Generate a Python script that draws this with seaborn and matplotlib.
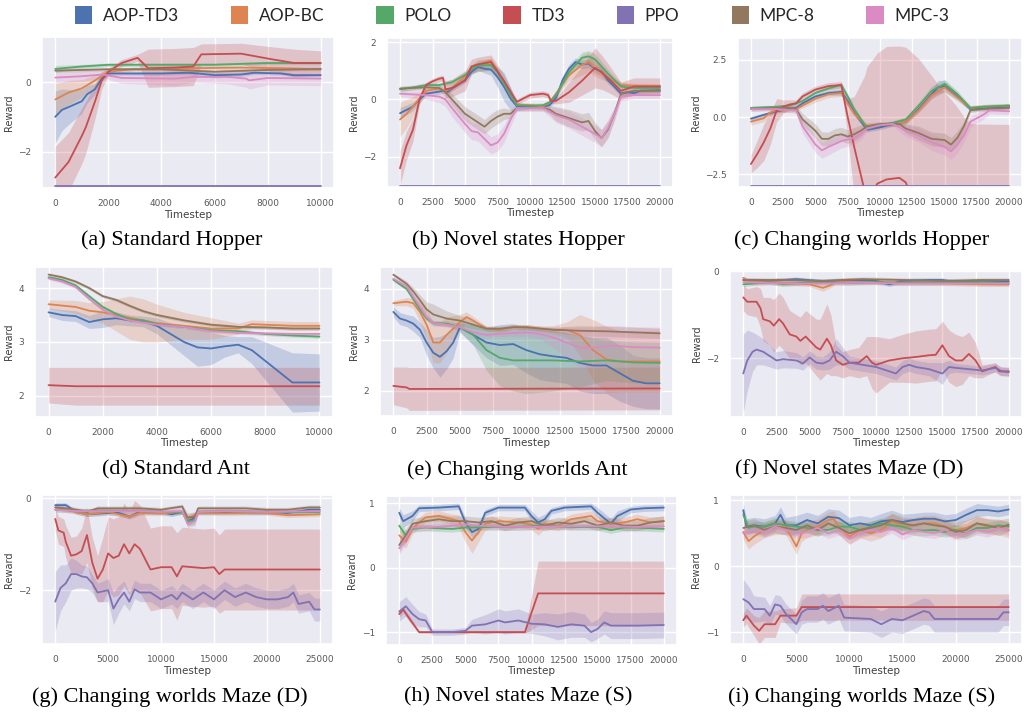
import pandas as pd
import matplotlib
matplotlib.use("Agg")
from matplotlib import pyplot as plt
from matplotlib.patches import Patch
import seaborn as sns

'''
    3x3 grid of reward curves (mean line + shaded spread) for seven methods.
    Each series is a list of (timestep, mean reward, half width of band).
'''

METHODS = ["AOP-TD3", "AOP-BC", "POLO", "TD3", "PPO", "MPC-8", "MPC-3"]
COLORS = dict(zip(METHODS, sns.color_palette("deep", 7)))

# (a) Standard Hopper
A_AOPTD3 = [(0, -1.0, 0.75), (250, -0.8, 0.6), (500, -0.72, 0.5), (1000, -0.55, 0.35), (1200, -0.35, 0.25),
            (1500, -0.2, 0.15), (1750, 0.1, 0.1), (2000, 0.25, 0.05), (3000, 0.25, 0.05), (4000, 0.25, 0.05),
            (5000, 0.27, 0.05), (5500, 0.24, 0.08), (6000, 0.2, 0.08), (7000, 0.22, 0.06), (7500, 0.27, 0.05),
            (8500, 0.25, 0.05), (9000, 0.2, 0.05), (10000, 0.2, 0.05)]
A_AOPBC = [(0, -0.5, 0.45), (500, -0.3, 0.35), (1000, -0.18, 0.25), (1500, 0.05, 0.15), (2000, 0.3, 0.08),
           (3000, 0.38, 0.05), (5000, 0.4, 0.05), (7000, 0.42, 0.05), (8500, 0.4, 0.05), (10000, 0.37, 0.05)]
A_POLO = [(0, 0.38, 0.1), (1000, 0.45, 0.06), (2000, 0.5, 0.05), (4000, 0.5, 0.05), (6000, 0.5, 0.05),
          (8000, 0.55, 0.05), (10000, 0.55, 0.05)]
A_TD3 = [(0, -2.75, 0.9), (500, -2.3, 0.85), (1000, -1.55, 0.8), (1150, -1.3, 0.75), (1500, -0.55, 0.5),
         (1750, 0.05, 0.25), (2000, 0.3, 0.1), (2500, 0.55, 0.1), (3100, 0.7, 0.1), (3500, 0.4, 0.55),
         (4500, 0.42, 0.55), (5200, 0.45, 0.55), (5500, 0.8, 0.3), (7000, 0.82, 0.3), (8000, 0.68, 0.35),
         (9000, 0.55, 0.4), (10000, 0.55, 0.35)]
A_PPO = [(0, -3.0, 0.0), (10000, -3.0, 0.0)]
A_MPC8 = [(0, 0.33, 0.05), (2000, 0.37, 0.05), (4000, 0.37, 0.05), (6000, 0.3, 0.05), (8000, 0.35, 0.05),
          (10000, 0.38, 0.05)]
A_MPC3 = [(0, 0.13, 0.15), (1000, 0.17, 0.15), (1800, 0.22, 0.1), (2500, 0.12, 0.15), (4500, 0.1, 0.2),
          (5200, 0.15, 0.15), (6500, 0.15, 0.2), (7200, 0.1, 0.25), (7300, 0.05, 0.25), (8000, 0.12, 0.2),
          (10000, 0.1, 0.2)]

# (b) Novel states Hopper
B_AOPTD3 = [(0, -0.48, 0.2), (1000, -0.25, 0.15), (1500, 0.0, 0.1), (2000, 0.2, 0.08), (3000, 0.27, 0.08),
            (3300, 0.3, 0.08), (3700, 0.27, 0.08), (4000, 0.38, 0.08), (5000, 0.67, 0.1), (5500, 0.96, 0.1),
            (6000, 1.13, 0.1), (6500, 1.07, 0.15), (7000, 1.04, 0.2), (7500, 0.78, 0.35), (8000, 0.44, 0.5),
            (8500, 0.03, 0.4), (9000, -0.25, 0.15), (10000, -0.25, 0.08), (11000, -0.25, 0.08),
            (11500, -0.2, 0.08), (12000, 0.05, 0.1), (12500, 0.67, 0.15), (13000, 1.07, 0.15),
            (13500, 1.3, 0.15), (14000, 1.22, 0.15), (14500, 1.25, 0.15), (15000, 1.07, 0.15),
            (15500, 0.96, 0.15), (16000, 0.67, 0.12), (16500, 0.44, 0.1), (17000, 0.2, 0.1),
            (17500, 0.25, 0.08), (18000, 0.22, 0.08), (18500, 0.3, 0.08), (20000, 0.32, 0.08)]
B_AOPBC = [(0, -0.7, 0.6), (500, -0.5, 0.5), (1000, -0.25, 0.35), (1500, 0.03, 0.2), (2000, 0.3, 0.1),
           (3000, 0.38, 0.1), (3500, 0.3, 0.1), (4000, 0.4, 0.1), (5000, 0.8, 0.1), (5500, 1.1, 0.1),
           (6000, 1.22, 0.1), (7000, 1.35, 0.1), (7500, 1.0, 0.1), (8000, 0.55, 0.1), (9000, -0.2, 0.08),
           (10000, -0.2, 0.08), (11000, -0.25, 0.08), (11500, -0.1, 0.08), (12000, 0.2, 0.1),
           (13000, 0.85, 0.2), (14000, 1.2, 0.35), (14500, 1.3, 0.35), (15000, 1.1, 0.3), (16000, 0.75, 0.15),
           (17000, 0.5, 0.1), (18000, 0.48, 0.08), (20000, 0.47, 0.08)]
B_POLO = [(0, 0.35, 0.1), (1000, 0.42, 0.08), (2000, 0.5, 0.08), (3000, 0.5, 0.08), (3500, 0.55, 0.08),
          (4000, 0.6, 0.1), (5000, 0.85, 0.12), (5500, 1.05, 0.15), (6000, 1.18, 0.2), (7000, 1.2, 0.2),
          (7500, 0.95, 0.15), (8000, 0.55, 0.1), (9000, -0.2, 0.08), (10000, -0.22, 0.08),
          (11000, -0.2, 0.08), (11500, -0.1, 0.08), (12000, 0.15, 0.1), (13000, 0.95, 0.15),
          (14000, 1.45, 0.2), (14500, 1.5, 0.2), (15000, 1.4, 0.2), (16000, 0.9, 0.15), (17000, 0.45, 0.1),
          (18000, 0.4, 0.08), (20000, 0.4, 0.08)]
B_TD3 = [(0, -2.4, 0.6), (500, -1.6, 0.5), (1000, -1.05, 0.4), (1500, 0.0, 0.15), (2000, 0.5, 0.1),
         (2500, 0.63, 0.1), (3000, 0.72, 0.1), (3300, 0.75, 0.1), (3500, 0.35, 0.3), (4000, 0.4, 0.3),
         (5000, 0.65, 0.35), (5500, 1.15, 0.25), (6000, 1.22, 0.25), (7000, 1.3, 0.25), (8000, 0.65, 0.2),
         (8800, 0.05, 0.1), (9000, -0.08, 0.1), (10000, 0.15, 0.1), (11000, 0.2, 0.1), (11400, 0.15, 0.1),
         (11600, -0.05, 0.1), (12000, -0.05, 0.1), (13000, 0.25, 0.35), (14000, 0.65, 0.5),
         (15000, 1.1, 0.7), (15500, 0.95, 0.6), (16000, 0.75, 0.5), (17000, 0.3, 0.3), (18000, 0.45, 0.3),
         (19000, 0.45, 0.3), (20000, 0.45, 0.3)]
B_PPO = [(0, -3.0, 0.0), (20000, -3.0, 0.0)]
B_MPC8 = [(0, 0.38, 0.08), (2000, 0.42, 0.08), (3000, 0.4, 0.1), (3500, 0.25, 0.15), (4000, 0.0, 0.2),
          (5000, -0.5, 0.25), (5500, -0.65, 0.25), (6500, -0.95, 0.25), (7000, -0.75, 0.25),
          (7500, -0.6, 0.25), (8000, -0.5, 0.2), (8500, -0.5, 0.15), (9000, -0.3, 0.1), (10000, -0.3, 0.1),
          (11000, -0.3, 0.1), (11500, -0.35, 0.15), (12000, -0.5, 0.25), (13000, -0.65, 0.3),
          (14000, -0.8, 0.3), (14500, -0.75, 0.3), (15000, -1.1, 0.3), (15500, -1.35, 0.3),
          (16000, -1.05, 0.3), (16500, -0.5, 0.2), (17000, 0.2, 0.1), (18000, 0.3, 0.08), (20000, 0.3, 0.08)]
B_MPC3 = [(0, 0.2, 0.1), (2000, 0.15, 0.15), (3000, 0.1, 0.2), (3500, 0.0, 0.25), (4000, -0.3, 0.3),
          (5000, -0.85, 0.3), (5500, -1.1, 0.3), (6000, -1.15, 0.3), (7000, -1.6, 0.3), (7500, -1.5, 0.3),
          (8000, -1.2, 0.3), (8500, -0.7, 0.25), (9000, -0.3, 0.1), (10000, -0.3, 0.1), (11000, -0.3, 0.1),
          (12000, -0.55, 0.25), (13000, -0.7, 0.3), (14000, -0.95, 0.3), (15000, -1.2, 0.3),
          (15500, -1.35, 0.3), (16000, -1.0, 0.3), (16500, -0.5, 0.25), (17000, 0.1, 0.15),
          (18000, 0.15, 0.12), (20000, 0.15, 0.12)]

# (c) Changing worlds Hopper
C_AOPTD3 = [(0, -0.07, 0.08), (1000, 0.1, 0.08), (2000, 0.25, 0.08), (3000, 0.35, 0.08), (3500, 0.4, 0.08),
            (4000, 0.6, 0.1), (5000, 0.9, 0.1), (6000, 1.05, 0.1), (7000, 1.1, 0.15), (7500, 0.7, 0.15),
            (8000, 0.2, 0.12), (9000, -0.55, 0.1), (10000, -0.45, 0.1), (11000, -0.3, 0.1),
            (11500, -0.25, 0.1), (12000, -0.2, 0.1), (13000, 0.35, 0.12), (14000, 1.0, 0.2),
            (14500, 1.3, 0.3), (15000, 1.35, 0.25), (16000, 0.9, 0.15), (17000, 0.35, 0.1), (18000, 0.4, 0.1),
            (20000, 0.45, 0.1)]
C_AOPBC = [(0, -0.2, 0.15), (1000, -0.05, 0.15), (1500, 0.2, 0.12), (2000, 0.3, 0.1), (3000, 0.3, 0.1),
           (3500, 0.35, 0.1), (4000, 0.5, 0.1), (5000, 0.8, 0.15), (6000, 1.0, 0.15), (7000, 1.05, 0.15),
           (7500, 0.6, 0.15), (8000, 0.15, 0.12), (9000, -0.4, 0.1), (10000, -0.35, 0.1), (11000, -0.3, 0.1),
           (12000, -0.2, 0.1), (13000, 0.3, 0.12), (14000, 0.95, 0.15), (15000, 1.3, 0.2),
           (16000, 0.85, 0.15), (17000, 0.4, 0.1), (18000, 0.45, 0.1), (20000, 0.5, 0.1)]
C_POLO = [(0, 0.4, 0.08), (2000, 0.45, 0.08), (3000, 0.5, 0.08), (4000, 0.7, 0.1), (5000, 1.05, 0.1),
          (6000, 1.25, 0.1), (7000, 1.4, 0.1), (7500, 0.9, 0.12), (8000, 0.35, 0.12), (9000, -0.5, 0.1),
          (10000, -0.35, 0.1), (11000, -0.25, 0.1), (12000, -0.1, 0.1), (13000, 0.5, 0.15),
          (14000, 1.15, 0.2), (15000, 1.45, 0.2), (16000, 1.0, 0.15), (17000, 0.4, 0.1), (18000, 0.45, 0.1),
          (20000, 0.5, 0.1)]
C_TD3 = [(0, -2.05, 0.4), (500, -1.6, 0.6), (1000, -1.1, 0.8), (1500, -0.5, 0.7), (2000, 0.3, 0.5),
         (2500, 0.45, 0.3), (3000, 0.55, 0.2), (3500, 0.6, 0.15), (4000, 0.9, 0.15), (5000, 1.2, 0.15),
         (6000, 1.35, 0.15), (7000, 1.4, 0.15), (7500, 0.0, 0.8), (8000, -1.3, 2.2), (8800, -3.2, 5.0),
         (9000, -3.6, 5.8), (9800, -2.9, 5.7), (10500, -2.72, 5.8), (11500, -2.65, 5.75),
         (12000, -2.85, 5.9), (12500, -3.6, 6.4), (13000, -3.6, 6.15), (14600, -3.6, 4.95),
         (15900, -3.6, 4.1), (16700, -3.6, 3.45), (17200, -3.6, 3.3), (20000, -3.6, 3.28)]
C_PPO = [(0, -3.0, 0.0), (20000, -3.0, 0.0)]
C_MPC8 = [(0, 0.35, 0.1), (2000, 0.4, 0.1), (3000, 0.4, 0.1), (3500, 0.35, 0.15), (4000, -0.1, 0.25),
          (5000, -0.6, 0.3), (5500, -0.95, 0.3), (6000, -0.95, 0.3), (6500, -0.8, 0.3), (7000, -0.75, 0.3),
          (7500, -0.85, 0.3), (8000, -0.75, 0.3), (8500, -0.6, 0.25), (9000, -0.4, 0.15),
          (10000, -0.3, 0.1), (11000, -0.3, 0.1), (11500, -0.3, 0.1), (12000, -0.5, 0.2),
          (13000, -0.7, 0.3), (14000, -0.95, 0.3), (15000, -1.0, 0.3), (15500, -1.2, 0.3),
          (16000, -0.9, 0.3), (16500, -0.4, 0.2), (17000, 0.3, 0.1), (18000, 0.35, 0.1), (20000, 0.4, 0.1)]
C_MPC3 = [(0, 0.35, 0.08), (2000, 0.35, 0.08), (3000, 0.3, 0.1), (3500, 0.3, 0.15), (4000, -0.4, 0.3),
          (5000, -1.2, 0.35), (5500, -1.45, 0.35), (6000, -1.3, 0.35), (7000, -1.05, 0.3),
          (8000, -0.9, 0.3), (8500, -0.75, 0.25), (9000, -0.5, 0.15), (10000, -0.35, 0.1),
          (11000, -0.3, 0.1), (12000, -0.6, 0.25), (13000, -0.8, 0.3), (14000, -1.1, 0.35),
          (15000, -1.3, 0.35), (15500, -1.5, 0.35), (16000, -1.2, 0.35), (16500, -0.8, 0.3),
          (17000, -0.2, 0.25), (18000, 0.1, 0.2), (18500, 0.3, 0.15), (20000, 0.25, 0.15)]

# (d) Standard Ant
D_AOPTD3 = [(0, 3.55, 0.08), (500, 3.5, 0.1), (1000, 3.48, 0.1), (1500, 3.37, 0.12), (2000, 3.42, 0.15),
            (2500, 3.44, 0.12), (3000, 3.4, 0.1), (3500, 3.38, 0.1), (4000, 3.3, 0.15), (4500, 3.15, 0.2),
            (5000, 3.0, 0.25), (5500, 2.9, 0.35), (6000, 2.88, 0.3), (6500, 2.92, 0.2), (7000, 2.95, 0.15),
            (7500, 2.85, 0.25), (8000, 2.65, 0.35), (8500, 2.45, 0.45), (9000, 2.25, 0.55),
            (10000, 2.25, 0.53)]
D_AOPBC = [(0, 3.7, 0.08), (1000, 3.65, 0.12), (1500, 3.58, 0.15), (2000, 3.55, 0.2), (2500, 3.5, 0.3),
           (3000, 3.45, 0.4), (3500, 3.4, 0.4), (4000, 3.35, 0.35), (5000, 3.3, 0.25), (6000, 3.25, 0.2),
           (7000, 3.25, 0.1), (7500, 3.33, 0.08), (8000, 3.32, 0.08), (9000, 3.3, 0.08), (10000, 3.3, 0.08)]
D_POLO = [(0, 4.2, 0.03), (500, 4.15, 0.03), (1000, 4.05, 0.03), (1500, 3.85, 0.03), (2000, 3.65, 0.03),
          (2500, 3.52, 0.03), (3000, 3.42, 0.03), (3500, 3.4, 0.03), (4000, 3.33, 0.03), (5000, 3.28, 0.03),
          (6000, 3.22, 0.03), (7000, 3.2, 0.03), (8000, 3.15, 0.03), (9000, 3.12, 0.03), (10000, 3.1, 0.03)]
D_TD3 = [(0, 2.2, 0.33), (1000, 2.18, 0.35), (10000, 2.18, 0.35)]
D_MPC8 = [(0, 4.25, 0.03), (500, 4.2, 0.03), (1000, 4.12, 0.03), (1500, 4.0, 0.03), (2000, 3.85, 0.03),
          (2500, 3.78, 0.03), (3000, 3.67, 0.03), (3500, 3.57, 0.03), (4000, 3.5, 0.03), (5000, 3.4, 0.03),
          (6000, 3.32, 0.03), (7000, 3.28, 0.03), (8000, 3.27, 0.03), (9000, 3.25, 0.03), (10000, 3.25, 0.03)]
D_MPC3 = [(0, 4.18, 0.03), (500, 4.12, 0.03), (1000, 4.02, 0.03), (1500, 3.8, 0.03), (2000, 3.6, 0.03),
          (2500, 3.47, 0.03), (3000, 3.4, 0.03), (4000, 3.32, 0.03), (5000, 3.28, 0.03), (6000, 3.2, 0.03),
          (7000, 3.17, 0.03), (8000, 3.16, 0.03), (9000, 3.15, 0.03), (10000, 3.15, 0.03)]

# (e) Changing worlds Ant
E_AOPTD3 = [(0, 3.55, 0.1), (500, 3.42, 0.12), (1000, 3.38, 0.12), (1500, 3.32, 0.15), (2000, 3.2, 0.15),
            (2500, 2.95, 0.25), (3000, 2.75, 0.3), (3500, 2.67, 0.4), (4000, 2.78, 0.35), (4500, 2.95, 0.3),
            (5000, 3.25, 0.1), (6000, 3.1, 0.2), (7000, 2.95, 0.3), (8000, 2.9, 0.4), (9000, 2.92, 0.4),
            (10000, 2.8, 0.45), (11000, 2.72, 0.5), (12000, 2.68, 0.5), (13000, 2.65, 0.5),
            (14000, 2.55, 0.55), (15000, 2.5, 0.55), (16000, 2.5, 0.55), (17000, 2.35, 0.55),
            (18000, 2.2, 0.5), (19000, 2.15, 0.5), (20000, 2.15, 0.5)]
E_AOPBC = [(0, 3.72, 0.05), (1000, 3.75, 0.08), (1500, 3.72, 0.1), (2000, 3.55, 0.2), (2500, 3.3, 0.3),
           (3000, 2.95, 0.4), (3500, 2.95, 0.4), (4000, 3.1, 0.35), (5000, 3.35, 0.15), (5500, 3.45, 0.1),
           (6000, 3.38, 0.08), (7000, 3.22, 0.05), (8000, 3.2, 0.05), (9000, 3.25, 0.05), (10000, 3.25, 0.05),
           (11000, 3.22, 0.05), (12000, 3.2, 0.08), (13000, 3.2, 0.15), (14000, 3.1, 0.4),
           (15000, 2.8, 0.6), (16000, 2.62, 0.65), (17000, 2.58, 0.6), (20000, 2.58, 0.6)]
E_POLO = [(0, 4.18, 0.03), (1000, 4.0, 0.03), (1500, 3.8, 0.05), (2000, 3.6, 0.05), (2500, 3.42, 0.05),
          (3000, 3.33, 0.05), (4000, 3.32, 0.05), (5000, 3.25, 0.08), (6000, 3.1, 0.2), (6500, 2.95, 0.3),
          (7000, 2.8, 0.4), (8000, 2.65, 0.55), (9000, 2.6, 0.6), (10000, 2.6, 0.65), (12000, 2.6, 0.6),
          (14000, 2.58, 0.5), (16000, 2.6, 0.4), (18000, 2.56, 0.4), (20000, 2.55, 0.4)]
E_TD3 = [(0, 2.1, 0.37), (1000, 2.07, 0.4), (1200, 2.04, 0.42), (20000, 2.05, 0.42)]
E_MPC8 = [(0, 4.28, 0.03), (1000, 4.1, 0.05), (1500, 3.95, 0.08), (2000, 3.78, 0.1), (2500, 3.6, 0.15),
          (3000, 3.5, 0.2), (4000, 3.42, 0.15), (5000, 3.38, 0.1), (6000, 3.3, 0.08), (7000, 3.22, 0.05),
          (8000, 3.22, 0.05), (9000, 3.25, 0.05), (10000, 3.25, 0.05), (12000, 3.2, 0.05), (14000, 3.18, 0.1),
          (16000, 3.17, 0.1), (18000, 3.15, 0.1), (20000, 3.13, 0.1)]
E_MPC3 = [(0, 4.2, 0.03), (1000, 4.05, 0.03), (1500, 3.85, 0.05), (2000, 3.65, 0.05), (2500, 3.45, 0.05),
          (3000, 3.33, 0.05), (4000, 3.3, 0.05), (5000, 3.25, 0.05), (6000, 3.15, 0.05), (7000, 3.1, 0.05),
          (8000, 3.12, 0.05), (10000, 3.15, 0.08), (11000, 3.12, 0.1), (12000, 3.05, 0.2),
          (13000, 2.95, 0.3), (14000, 2.85, 0.4), (15000, 2.85, 0.4), (16000, 2.88, 0.4),
          (17000, 2.88, 0.4), (18000, 2.86, 0.4), (20000, 2.85, 0.4)]

# (f) Novel states Maze (D)
F_AOPTD3 = [(0, -0.2, 0.05), (2000, -0.22, 0.05), (4000, -0.18, 0.05), (6000, -0.23, 0.05),
            (8000, -0.2, 0.05), (10000, -0.22, 0.05), (11000, -0.3, 0.05), (12000, -0.22, 0.05),
            (14000, -0.2, 0.05), (15000, -0.2, 0.05), (16000, -0.25, 0.05), (18000, -0.22, 0.05),
            (20000, -0.23, 0.05)]
F_AOPBC = [(0, -0.15, 0.05), (500, -0.25, 0.05), (2000, -0.25, 0.05), (4000, -0.28, 0.05), (5000, -0.3, 0.05),
           (6000, -0.38, 0.08), (6500, -0.33, 0.06), (7000, -0.25, 0.05), (10000, -0.25, 0.05),
           (13000, -0.27, 0.05), (16000, -0.28, 0.05), (18000, -0.3, 0.05), (20000, -0.3, 0.05)]
F_POLO = [(0, -0.3, 0.05), (2000, -0.25, 0.05), (3000, -0.3, 0.05), (5000, -0.25, 0.05), (8000, -0.27, 0.05),
          (10000, -0.25, 0.05), (12000, -0.27, 0.05), (15000, -0.25, 0.05), (18000, -0.25, 0.05),
          (20000, -0.27, 0.05)]
F_TD3 = [(0, -0.6, 0.3), (300, -0.7, 0.3), (1000, -0.7, 0.35), (1300, -0.85, 0.45), (1500, -1.1, 0.5),
         (2000, -1.15, 0.55), (2300, -1.25, 0.6), (2700, -1.1, 0.6), (3000, -1.2, 0.6), (3500, -1.45, 0.55),
         (4000, -1.5, 0.5), (4300, -1.6, 0.55), (4700, -1.5, 0.6), (5500, -1.75, 0.65), (5800, -1.8, 0.7),
         (6300, -1.55, 0.8), (6600, -1.7, 0.7), (7000, -2.05, 0.35), (7500, -2.15, 0.3), (8000, -2.1, 0.3),
         (8700, -2.1, 0.35), (9300, -1.95, 0.45), (9700, -2.1, 0.6), (10000, -2.15, 0.65),
         (11000, -2.05, 0.5), (12000, -2.0, 0.55), (13000, -1.97, 0.6), (14000, -1.93, 0.6),
         (14500, -1.92, 0.6), (15000, -1.7, 0.55), (15500, -1.95, 0.6), (16000, -2.05, 0.6),
         (16500, -2.05, 0.55), (17000, -1.9, 0.5), (17500, -2.05, 0.4), (18000, -2.3, 0.15),
         (19000, -2.2, 0.1), (19300, -2.3, 0.1), (20000, -2.3, 0.1)]
F_PPO = [(0, -2.35, 0.9), (300, -2.05, 0.7), (700, -1.85, 0.45), (1000, -1.8, 0.35), (1500, -1.85, 0.3),
         (2500, -2.05, 0.2), (3000, -2.02, 0.2), (4000, -2.05, 0.18), (4500, -2.12, 0.15), (5000, -1.98, 0.15),
         (5500, -2.1, 0.15), (6000, -2.12, 0.15), (6500, -2.05, 0.2), (7000, -1.85, 0.3), (7500, -1.95, 0.2),
         (8000, -2.1, 0.15), (9000, -2.15, 0.15), (10000, -2.2, 0.15), (11000, -2.3, 0.15),
         (11500, -2.35, 0.15), (12000, -2.2, 0.15), (12500, -2.15, 0.15), (13000, -2.2, 0.15),
         (14000, -2.25, 0.15), (15000, -2.35, 0.25), (15500, -2.2, 0.15), (16000, -2.22, 0.1),
         (17000, -2.25, 0.1), (18000, -2.28, 0.1), (19000, -2.22, 0.1), (19500, -2.3, 0.1),
         (20000, -2.32, 0.1)]
F_MPC8 = [(0, -0.2, 0.05), (3000, -0.2, 0.05), (6000, -0.22, 0.05), (9000, -0.18, 0.05), (12000, -0.2, 0.05),
          (15000, -0.22, 0.05), (18000, -0.2, 0.05), (20000, -0.2, 0.05)]
F_MPC3 = [(0, -0.25, 0.05), (3000, -0.28, 0.05), (6000, -0.28, 0.05), (9000, -0.26, 0.05),
          (12000, -0.28, 0.05), (15000, -0.28, 0.05), (18000, -0.28, 0.05), (20000, -0.28, 0.05)]

# (g) Changing worlds Maze (D)
G_AOPTD3 = [(0, -0.15, 0.05), (1000, -0.15, 0.05), (2000, -0.3, 0.05), (3000, -0.35, 0.05),
            (5000, -0.32, 0.05), (6000, -0.32, 0.05), (7000, -0.4, 0.05), (8000, -0.3, 0.05),
            (10000, -0.3, 0.05), (11000, -0.35, 0.05), (12000, -0.3, 0.05), (12500, -0.5, 0.1),
            (13000, -0.45, 0.1), (13500, -0.3, 0.05), (16000, -0.3, 0.05), (20000, -0.3, 0.05),
            (22000, -0.32, 0.05), (24000, -0.25, 0.05), (25000, -0.25, 0.05)]
G_AOPBC = [(0, -0.2, 0.05), (1000, -0.25, 0.05), (2000, -0.3, 0.05), (3000, -0.35, 0.05), (5000, -0.3, 0.05),
           (7000, -0.4, 0.05), (8000, -0.32, 0.05), (10000, -0.33, 0.05), (12000, -0.3, 0.05),
           (12500, -0.45, 0.1), (13500, -0.32, 0.05), (16000, -0.33, 0.05), (18000, -0.32, 0.05),
           (20000, -0.32, 0.05), (22000, -0.37, 0.05), (25000, -0.35, 0.05)]
G_POLO = [(0, -0.25, 0.05), (2000, -0.27, 0.05), (5000, -0.27, 0.05), (8000, -0.28, 0.05),
          (10000, -0.3, 0.05), (12000, -0.3, 0.05), (12500, -0.5, 0.1), (13200, -0.48, 0.1),
          (13500, -0.3, 0.05), (16000, -0.28, 0.05), (20000, -0.3, 0.05), (25000, -0.3, 0.05)]
G_TD3 = [(0, -0.45, 0.25), (300, -0.7, 0.3), (800, -0.75, 0.3), (1000, -0.95, 0.35), (1500, -1.25, 0.4),
         (2000, -1.22, 0.4), (2500, -1.15, 0.5), (3000, -0.8, 0.6), (3500, -1.4, 0.55), (4000, -1.75, 0.5),
         (4500, -1.55, 0.7), (5000, -1.2, 0.8), (5500, -1.3, 0.85), (6000, -1.25, 0.85), (6500, -1.0, 0.9),
         (7000, -1.2, 0.9), (7500, -1.0, 0.95), (8000, -1.1, 0.95), (9000, -1.55, 0.9), (10000, -1.5, 0.9),
         (11000, -1.5, 0.9), (11500, -1.7, 0.95), (12000, -1.48, 0.85), (13000, -1.5, 0.85),
         (14000, -1.52, 0.85), (15000, -1.5, 0.85), (15500, -1.65, 0.85), (16000, -1.55, 0.88),
         (25000, -1.55, 0.88)]
G_PPO = [(0, -2.25, 0.65), (500, -1.95, 0.5), (1000, -1.85, 0.4), (1500, -1.65, 0.35), (2000, -1.65, 0.3),
         (2500, -1.7, 0.25), (3000, -1.72, 0.25), (3500, -1.85, 0.2), (4000, -2.05, 0.2), (5000, -2.0, 0.25),
         (5500, -2.4, 0.35), (6000, -2.2, 0.3), (6500, -2.05, 0.25), (7000, -2.25, 0.2), (7500, -1.98, 0.2),
         (8000, -2.05, 0.2), (9000, -2.05, 0.2), (10000, -2.2, 0.2), (11000, -2.1, 0.2), (11500, -2.2, 0.2),
         (12000, -2.05, 0.2), (13000, -2.2, 0.2), (14000, -2.05, 0.2), (15000, -2.2, 0.2),
         (16000, -2.0, 0.2), (17000, -2.15, 0.2), (18000, -2.05, 0.2), (19000, -2.15, 0.2),
         (20000, -2.2, 0.2), (21000, -2.2, 0.2), (22000, -2.15, 0.2), (22500, -2.05, 0.2),
         (23000, -2.3, 0.2), (24000, -2.25, 0.2), (24500, -2.42, 0.25), (25000, -2.42, 0.25)]
G_MPC8 = [(0, -0.2, 0.05), (1000, -0.22, 0.05), (2000, -0.25, 0.05), (3000, -0.3, 0.05), (4000, -0.22, 0.05),
          (6000, -0.22, 0.05), (8000, -0.22, 0.05), (10000, -0.25, 0.05), (12000, -0.18, 0.05),
          (12500, -0.42, 0.1), (13200, -0.4, 0.1), (13500, -0.22, 0.05), (16000, -0.22, 0.05),
          (18000, -0.22, 0.05), (20000, -0.25, 0.05), (22000, -0.25, 0.05), (24000, -0.2, 0.05),
          (25000, -0.2, 0.05)]
G_MPC3 = [(0, -0.25, 0.05), (2000, -0.28, 0.05), (5000, -0.28, 0.05), (8000, -0.28, 0.05),
          (10000, -0.3, 0.05), (12000, -0.28, 0.05), (12500, -0.55, 0.1), (13200, -0.5, 0.1),
          (13500, -0.3, 0.05), (16000, -0.28, 0.05), (20000, -0.3, 0.05), (25000, -0.28, 0.05)]

# (h) Novel states Maze (S)
H_AOPTD3 = [(0, 0.85, 0.08), (300, 0.72, 0.1), (1000, 0.8, 0.08), (1500, 0.92, 0.05), (3000, 0.93, 0.05),
            (4500, 0.95, 0.05), (5000, 0.7, 0.08), (5500, 0.55, 0.08), (6000, 0.6, 0.08), (6500, 0.85, 0.05),
            (7500, 0.93, 0.05), (9500, 0.93, 0.05), (10000, 0.8, 0.08), (10500, 0.7, 0.08),
            (11000, 0.75, 0.08), (11500, 0.88, 0.05), (12500, 0.93, 0.05), (14500, 0.95, 0.05),
            (15000, 0.85, 0.08), (16000, 0.68, 0.08), (16500, 0.8, 0.08), (17500, 0.9, 0.05),
            (18500, 0.92, 0.05), (20000, 0.93, 0.05)]
H_AOPBC = [(0, 0.5, 0.1), (500, 0.4, 0.1), (1000, 0.6, 0.08), (1500, 0.7, 0.08), (2000, 0.78, 0.08),
           (3000, 0.8, 0.08), (4000, 0.75, 0.08), (4500, 0.72, 0.1), (5000, 0.55, 0.15), (5500, 0.42, 0.2),
           (6000, 0.55, 0.15), (6500, 0.68, 0.1), (7500, 0.72, 0.08), (9000, 0.7, 0.08), (10000, 0.67, 0.08),
           (10500, 0.6, 0.1), (11000, 0.68, 0.08), (12000, 0.65, 0.08), (13000, 0.75, 0.08),
           (14500, 0.8, 0.08), (15000, 0.72, 0.08), (16000, 0.68, 0.08), (17000, 0.7, 0.08),
           (18000, 0.75, 0.08), (19000, 0.7, 0.08), (20000, 0.72, 0.08)]
H_POLO = [(0, 0.65, 0.08), (500, 0.5, 0.08), (1000, 0.6, 0.05), (2000, 0.62, 0.05), (4000, 0.6, 0.05),
          (5000, 0.62, 0.05), (7000, 0.63, 0.05), (9000, 0.63, 0.05), (11000, 0.65, 0.05),
          (13000, 0.63, 0.05), (15000, 0.63, 0.05), (16000, 0.58, 0.05), (17000, 0.62, 0.05),
          (18000, 0.62, 0.05), (20000, 0.6, 0.05)]
H_TD3 = [(0, -0.72, 0.05), (300, -0.65, 0.05), (800, -0.8, 0.05), (1500, -1.0, 0.02), (5000, -1.0, 0.02),
         (9500, -1.0, 0.02), (10500, -0.4, 0.5), (20000, -0.4, 0.5)]
H_PPO = [(0, -0.68, 0.15), (500, -0.6, 0.15), (1000, -0.72, 0.15), (1500, -0.8, 0.12), (2000, -0.82, 0.1),
         (2500, -1.0, 0.05), (4000, -1.0, 0.05), (5000, -0.98, 0.05), (5500, -0.9, 0.1), (6500, -0.88, 0.15),
         (7500, -0.82, 0.18), (8000, -0.85, 0.18), (9000, -0.82, 0.18), (10000, -0.87, 0.15),
         (11000, -0.88, 0.18), (12000, -0.92, 0.2), (13000, -0.88, 0.2), (14000, -0.9, 0.18),
         (14500, -1.0, 0.15), (15000, -0.95, 0.15), (15500, -0.85, 0.18), (16000, -0.9, 0.2),
         (17000, -0.9, 0.2), (18000, -0.9, 0.2), (20000, -0.89, 0.2)]
H_MPC8 = [(0, 0.35, 0.1), (500, 0.5, 0.1), (1000, 0.68, 0.08), (2000, 0.72, 0.08), (3000, 0.75, 0.08),
          (4000, 0.72, 0.08), (5000, 0.72, 0.08), (6000, 0.7, 0.08), (7000, 0.72, 0.08), (8000, 0.65, 0.08),
          (9000, 0.7, 0.08), (10000, 0.72, 0.08), (11000, 0.65, 0.08), (12000, 0.7, 0.08),
          (13000, 0.68, 0.08), (14000, 0.72, 0.08), (15000, 0.65, 0.08), (16000, 0.7, 0.08),
          (17000, 0.65, 0.08), (18000, 0.65, 0.08), (19000, 0.7, 0.08), (20000, 0.72, 0.08)]
H_MPC3 = [(0, 0.3, 0.1), (500, 0.45, 0.08), (1000, 0.62, 0.05), (2000, 0.62, 0.05), (4000, 0.65, 0.05),
          (5000, 0.67, 0.05), (6000, 0.65, 0.05), (8000, 0.63, 0.05), (10000, 0.63, 0.05),
          (12000, 0.64, 0.05), (14000, 0.64, 0.05), (16000, 0.64, 0.05), (18000, 0.63, 0.05),
          (20000, 0.64, 0.05)]

# (i) Changing worlds Maze (S)
I_AOPTD3 = [(0, 0.85, 0.1), (300, 0.6, 0.12), (1000, 0.62, 0.12), (2000, 0.6, 0.12), (3000, 0.65, 0.12),
            (3500, 0.78, 0.12), (4000, 0.62, 0.12), (5000, 0.62, 0.15), (6000, 0.7, 0.12), (7000, 0.65, 0.12),
            (8000, 0.75, 0.12), (9000, 0.73, 0.12), (10000, 0.62, 0.12), (11000, 0.65, 0.12),
            (12000, 0.62, 0.12), (13000, 0.68, 0.12), (14000, 0.7, 0.15), (15000, 0.67, 0.12),
            (16000, 0.7, 0.1), (17000, 0.72, 0.1), (18000, 0.72, 0.1), (19000, 0.68, 0.1), (20000, 0.7, 0.1),
            (21000, 0.78, 0.1), (22000, 0.85, 0.1), (23000, 0.85, 0.08), (24000, 0.83, 0.08),
            (25000, 0.86, 0.08)]
I_AOPBC = [(0, 0.52, 0.12), (500, 0.38, 0.12), (1000, 0.45, 0.12), (2000, 0.55, 0.12), (3000, 0.6, 0.12),
           (4000, 0.6, 0.12), (4500, 0.45, 0.12), (5000, 0.3, 0.12), (5500, 0.5, 0.12), (6000, 0.55, 0.12),
           (7000, 0.6, 0.12), (8000, 0.7, 0.12), (8500, 0.72, 0.12), (9000, 0.6, 0.12), (10000, 0.45, 0.12),
           (11000, 0.55, 0.12), (12000, 0.5, 0.12), (13000, 0.55, 0.12), (14000, 0.68, 0.12),
           (15000, 0.6, 0.12), (16000, 0.62, 0.12), (17000, 0.65, 0.12), (18000, 0.65, 0.12),
           (19000, 0.6, 0.12), (20000, 0.55, 0.12), (21000, 0.58, 0.12), (22000, 0.65, 0.12),
           (23000, 0.6, 0.12), (24000, 0.6, 0.12), (25000, 0.55, 0.12)]
I_POLO = [(0, 0.78, 0.08), (500, 0.58, 0.08), (1000, 0.6, 0.08), (2000, 0.6, 0.08), (3000, 0.65, 0.08),
          (4000, 0.62, 0.08), (5000, 0.6, 0.08), (6000, 0.58, 0.08), (7000, 0.55, 0.08), (8000, 0.55, 0.08),
          (9000, 0.6, 0.08), (10000, 0.6, 0.08), (11000, 0.55, 0.08), (12000, 0.6, 0.08), (13000, 0.65, 0.08),
          (14000, 0.62, 0.08), (15000, 0.6, 0.08), (16000, 0.55, 0.08), (17000, 0.54, 0.08),
          (18000, 0.55, 0.08), (19000, 0.52, 0.08), (20000, 0.55, 0.08), (21000, 0.5, 0.08),
          (22000, 0.58, 0.08), (23000, 0.58, 0.08), (24000, 0.62, 0.08), (25000, 0.6, 0.08)]
I_TD3 = [(0, -0.82, 0.1), (300, -0.75, 0.12), (1000, -0.9, 0.15), (1500, -0.98, 0.2), (2000, -0.88, 0.2),
         (3000, -0.88, 0.2), (3500, -0.75, 0.1), (5000, -0.75, 0.12), (5500, -0.62, 0.2), (25000, -0.62, 0.2)]
I_PPO = [(0, -0.5, 0.3), (500, -0.55, 0.25), (1000, -0.65, 0.2), (2000, -0.65, 0.18), (2500, -0.75, 0.15),
         (3000, -0.58, 0.15), (3500, -0.6, 0.15), (4000, -0.72, 0.15), (5000, -0.88, 0.15),
         (5500, -0.7, 0.18), (6000, -0.65, 0.2), (7000, -0.65, 0.2), (7500, -0.6, 0.2), (8000, -0.68, 0.2),
         (9000, -0.6, 0.2), (9500, -0.78, 0.2), (12000, -0.8, 0.2), (13000, -0.88, 0.2), (14000, -0.8, 0.2),
         (15000, -0.82, 0.2), (16000, -0.75, 0.2), (17000, -0.68, 0.2), (17500, -0.7, 0.2),
         (18000, -0.8, 0.2), (24000, -0.8, 0.2), (24500, -0.7, 0.2), (25000, -0.7, 0.2)]
I_MPC8 = [(0, 0.58, 0.1), (1000, 0.62, 0.1), (2000, 0.55, 0.1), (3000, 0.6, 0.1), (4000, 0.58, 0.1),
          (5000, 0.55, 0.1), (6000, 0.62, 0.1), (7000, 0.55, 0.1), (8000, 0.65, 0.1), (9000, 0.58, 0.1),
          (10000, 0.5, 0.1), (11000, 0.55, 0.1), (12000, 0.58, 0.1), (13000, 0.62, 0.1), (14000, 0.7, 0.1),
          (15000, 0.65, 0.1), (16000, 0.62, 0.1), (17000, 0.65, 0.1), (18000, 0.62, 0.1), (19000, 0.6, 0.1),
          (20000, 0.52, 0.1), (21000, 0.55, 0.1), (22000, 0.65, 0.1), (23000, 0.62, 0.1),
          (24000, 0.58, 0.12), (25000, 0.63, 0.1)]
I_MPC3 = [(0, 0.5, 0.08), (1000, 0.55, 0.08), (2000, 0.52, 0.08), (3000, 0.6, 0.08), (4000, 0.55, 0.08),
          (5000, 0.5, 0.08), (6000, 0.52, 0.08), (7000, 0.58, 0.08), (8000, 0.5, 0.08), (9000, 0.55, 0.08),
          (10000, 0.42, 0.08), (11000, 0.5, 0.08), (12000, 0.55, 0.08), (13000, 0.52, 0.08),
          (14000, 0.58, 0.08), (15000, 0.48, 0.08), (16000, 0.55, 0.08), (17000, 0.52, 0.08),
          (18000, 0.5, 0.08), (19000, 0.55, 0.08), (20000, 0.48, 0.08), (21000, 0.5, 0.08),
          (22000, 0.55, 0.08), (23000, 0.52, 0.08), (24000, 0.58, 0.08), (25000, 0.55, 0.08)]

CAPTIONS = ["(a) Standard Hopper", "(b) Novel states Hopper", "(c) Changing worlds Hopper",
            "(d) Standard Ant", "(e) Changing worlds Ant", "(f) Novel states Maze (D)",
            "(g) Changing worlds Maze (D)", "(h) Novel states Maze (S)", "(i) Changing worlds Maze (S)"]

PANELS = [
    [A_AOPTD3, A_AOPBC, A_POLO, A_TD3, A_PPO, A_MPC8, A_MPC3],
    [B_AOPTD3, B_AOPBC, B_POLO, B_TD3, B_PPO, B_MPC8, B_MPC3],
    [C_AOPTD3, C_AOPBC, C_POLO, C_TD3, C_PPO, C_MPC8, C_MPC3],
    [D_AOPTD3, D_AOPBC, D_POLO, D_TD3, None, D_MPC8, D_MPC3],
    [E_AOPTD3, E_AOPBC, E_POLO, E_TD3, None, E_MPC8, E_MPC3],
    [F_AOPTD3, F_AOPBC, F_POLO, F_TD3, F_PPO, F_MPC8, F_MPC3],
    [G_AOPTD3, G_AOPBC, G_POLO, G_TD3, G_PPO, G_MPC8, G_MPC3],
    [H_AOPTD3, H_AOPBC, H_POLO, H_TD3, H_PPO, H_MPC8, H_MPC3],
    [I_AOPTD3, I_AOPBC, I_POLO, I_TD3, I_PPO, I_MPC8, I_MPC3],
]

YLIMS = [(-3.05, 1.3), (-3.05, 2.14), (-3.05, 3.45), (1.61, 4.39), (1.51, 4.43), (-3.35, 0.03),
         (-3.17, 0.07), (-1.2, 1.11), (-1.18, 1.08)]
YTICKS = [[-2, 0], [-2, 0, 2], [-2.5, 0.0, 2.5], [2, 3, 4], [2, 3, 4], [-2, 0], [-2, 0], [-1, 0, 1], [-1, 0, 1]]
XMAX = [10000, 20000, 20000, 10000, 20000, 20000, 25000, 20000, 25000]
XSTEP = [2000, 2500, 2500, 2000, 2500, 2500, 5000, 2500, 5000]

# axes boxes in pixels: left, top, right, bottom
BOXES = [(42, 37, 334, 188), (387, 38, 673, 187), (738, 38, 1022, 187),
         (35, 267, 333, 417), (380, 267, 673, 416), (730, 270, 1022, 417),
         (42, 495, 333, 644), (386, 496, 677, 645), (730, 495, 1022, 644)]
CAP_X = [172, 518, 862, 176, 517, 849, 170, 518, 862]
CAP_Y = [240, 240, 240, 470, 470, 470, 697, 697, 697]

W, H = 1024, 715


def to_frame(series_list):
    rows = []
    for name, pts in zip(METHODS, series_list):
        if pts is None:
            continue
        for t, m, e in pts:
            rows.append({'method': name, 'Timestep': t, 'Reward': m, 'lo': m - e, 'hi': m + e})
    return pd.DataFrame(rows)


def plot_panel(ax, frame, k):
    for name in METHODS:
        sub = frame[frame['method'] == name]
        if len(sub) == 0:
            continue
        ax.fill_between(sub['Timestep'].values, sub['lo'].values, sub['hi'].values,
                        color=COLORS[name], alpha=0.25, linewidth=0)
    sns.lineplot(ax=ax, data=frame, x='Timestep', y='Reward', hue='method', hue_order=METHODS,
                 palette=COLORS, estimator=None, errorbar=None, legend=False, linewidth=1.3)
    xm = XMAX[k]
    ax.set_xlim(-0.05 * xm, 1.05 * xm)
    ax.set_ylim(YLIMS[k])
    ax.set_xticks(range(0, xm + 1, XSTEP[k]))
    ax.set_yticks(YTICKS[k])
    if k == 2:
        ax.set_yticklabels(['\u22122.5', '0.0', '2.5'])
    ax.tick_params(labelsize=6.5, pad=2, labelcolor='0.35')
    ax.set_xlabel('Timestep', fontsize=7.5, labelpad=1, color='0.25')
    ax.set_ylabel('Reward', fontsize=7, labelpad=3, color='0.25')


sns.set_theme(style='darkgrid')
plt.rcParams['font.family'] = ['DejaVu Sans']

fig = plt.figure(figsize=(W / 100, H / 100), dpi=100)

for k, series_list in enumerate(PANELS):
    l, t, r, b = BOXES[k]
    ax = fig.add_axes([l / W, 1 - b / H, (r - l) / W, (b - t) / H])
    plot_panel(ax, to_frame(series_list), k)
    fig.text(CAP_X[k] / W, 1 - CAP_Y[k] / H, CAPTIONS[k], ha='center', va='center', color='black',
             fontsize=16, family=['Liberation Serif', 'DejaVu Serif'])

handles = [Patch(facecolor=COLORS[m], edgecolor='none', label=m) for m in METHODS]
fig.legend(handles=handles, loc='center', bbox_to_anchor=(0.5, 1 - 15 / H), ncol=7, frameon=False,
           prop={'family': ['Lato', 'DejaVu Sans'], 'size': 12.5}, handlelength=1.0, handleheight=1.3,
           handletextpad=0.6, columnspacing=3.0, labelcolor='0.15')

fig.savefig('out.png', dpi=100)
